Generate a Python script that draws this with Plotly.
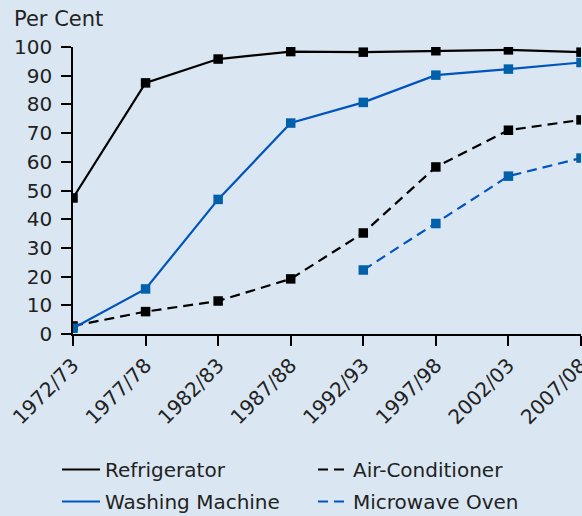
import plotly.graph_objects as go

years = ["1972/73", "1977/78", "1982/83", "1987/88", "1992/93", "1997/98", "2002/03", "2007/08"]
refrigerator = [47.4, 87.5, 95.8, 98.4, 98.2, 98.7, 99.0, 98.2]
washing = [2.0, 15.7, 46.9, 73.5, 80.7, 90.2, 92.3, 94.6]
aircon = [2.8, 7.8, 11.5, 19.2, 35.2, 58.2, 71.0, 74.6]
microwave = [None, None, None, None, 22.3, 38.5, 55.0, 61.3]

BG = "rgb(218,231,242)"
BLUE_LINE = "rgb(0,84,190)"
BLUE_MARK = "rgb(0,96,170)"
FONT = "DejaVu Sans"
FS = 20
DASH = "10px,6px"

fig = go.Figure()
x = list(range(len(years)))

# name, values, line colour, marker colour, dash, legend id, legend x, legend top, itemwidth
series = [
    ("Refrigerator", refrigerator, "black", "black", "solid", "legend", 57, 450, 38),
    ("Air-Conditioner", aircon, "black", "black", DASH, "legend2", 313, 450, 30),
    ("Washing Machine", washing, BLUE_LINE, BLUE_MARK, "solid", "legend3", 57, 482, 38),
    ("Microwave Oven", microwave, BLUE_LINE, BLUE_MARK, DASH, "legend4", 313, 482, 30),
]

for name, vals, lc, mc, dash, *_ in series:
    fig.add_trace(go.Scatter(
        x=x, y=vals, name=name, mode="lines+markers", showlegend=False,
        line=dict(color=lc, width=2.2, dash=dash),
        marker=dict(symbol="square", size=9.5, color=mc),
    ))

legends = {}
for name, vals, lc, mc, dash, lg, lx, ly, iw in series:
    fig.add_trace(go.Scatter(
        x=[None], y=[None], name=name, mode="lines", showlegend=True, legend=lg,
        line=dict(color=lc, width=2.2, dash=dash),
    ))
    legends[lg] = dict(
        orientation="v", xref="container", yref="container",
        x=lx/582, y=1-ly/516, xanchor="left", yanchor="top",
        font=dict(family=FONT, size=FS, color="#222"),
        bgcolor="rgba(0,0,0,0)", itemwidth=iw, borderwidth=0,
    )

fig.update_layout(
    width=582, height=516,
    paper_bgcolor=BG, plot_bgcolor=BG,
    margin=dict(l=73, r=1, t=47, b=182, autoexpand=False),
    font=dict(family=FONT, size=FS, color="#222"),
    showlegend=True,
    annotations=[dict(text="Per Cent", xref="paper", yref="paper", x=(12-73)/508, y=1+28/287,
                      xanchor="left", yanchor="middle", showarrow=False,
                      font=dict(family=FONT, size=21, color="#222"))],
    **legends,
)
fig.update_xaxes(
    range=[0, 7], tickvals=x, ticktext=years, tickangle=-45,
    showgrid=False, zeroline=False, showline=True, linecolor="black", linewidth=1.5,
    ticks="outside", ticklen=10, tickcolor="black", tickwidth=1.5,
    tickfont=dict(family=FONT, size=FS, color="#222"), ticklabeloverflow="allow",
)
fig.update_yaxes(
    range=[0, 100], tickvals=list(range(0, 101, 10)),
    showgrid=False, zeroline=False, showline=True, linecolor="black", linewidth=1.5,
    ticks="outside", ticklen=10, tickcolor="black", tickwidth=1.5, ticklabelstandoff=5,
    tickfont=dict(family=FONT, size=FS, color="#222"),
)

fig.write_html("out.html", config={"displayModeBar": False},
               post_script="document.body.style.margin='0';document.body.style.overflow='hidden';")
